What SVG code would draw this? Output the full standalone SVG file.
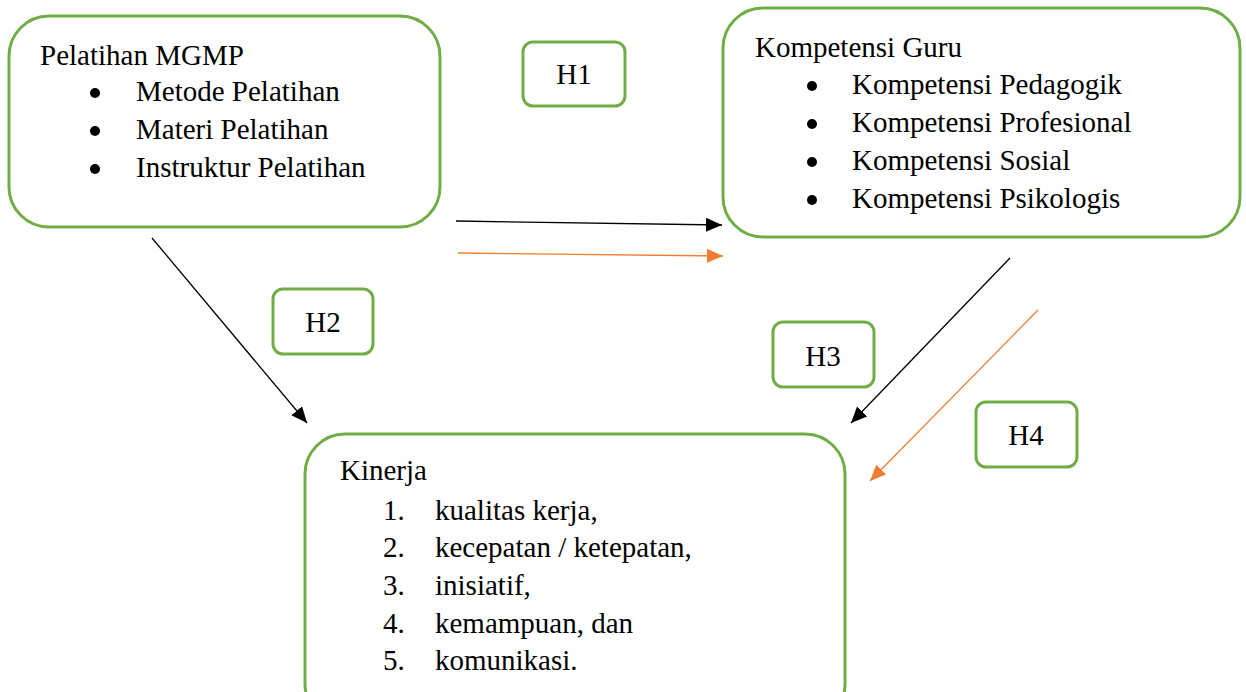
<svg xmlns="http://www.w3.org/2000/svg" width="1246" height="692" viewBox="0 0 1246 692">
<style>
.box{fill:#fff;stroke:#70AD47;stroke-width:3}
.t{font-family:"Liberation Serif","Times New Roman",serif;font-size:29px;fill:#000}
.h{font-family:"Liberation Serif","Times New Roman",serif;font-size:29px;fill:#000;text-anchor:middle}
.blk{stroke:#000;stroke-width:1.3;fill:none}
.org{stroke:#ED7D31;stroke-width:1.3;fill:none}
</style>
<defs>
<marker id="ab" markerUnits="userSpaceOnUse" markerWidth="18" markerHeight="16" refX="16" refY="7" orient="auto"><path d="M0,0 L16,7 L0,14 Z" fill="#000"/></marker>
<marker id="ao" markerUnits="userSpaceOnUse" markerWidth="18" markerHeight="16" refX="16" refY="7" orient="auto"><path d="M0,0 L16,7 L0,14 Z" fill="#ED7D31"/></marker>
</defs>
<rect width="1246" height="692" fill="#fff"/>
<g id="connectors">
<line class="blk" x1="456" y1="221" x2="722" y2="225" marker-end="url(#ab)"/>
<line class="org" x1="458" y1="253" x2="723" y2="256" marker-end="url(#ao)"/>
<line class="blk" x1="152" y1="238" x2="307" y2="423" marker-end="url(#ab)"/>
<line class="blk" x1="1010" y1="258" x2="851" y2="423" marker-end="url(#ab)"/>
<line class="org" x1="1038" y1="310" x2="870" y2="481" marker-end="url(#ao)"/>
</g>
<g id="pelatihan">
<rect class="box" x="9" y="16" width="431" height="211" rx="40"/>
<text class="t" x="40" y="65">Pelatihan MGMP</text>
<circle cx="95" cy="93" r="5"/><text class="t" x="136" y="101">Metode Pelatihan</text>
<circle cx="95" cy="131" r="5"/><text class="t" x="136" y="139">Materi Pelatihan</text>
<circle cx="95" cy="169" r="5"/><text class="t" x="136" y="177">Instruktur Pelatihan</text>
</g>
<g id="kompetensi">
<rect class="box" x="723" y="8" width="517" height="229" rx="40"/>
<text class="t" x="755" y="57">Kompetensi Guru</text>
<circle cx="812" cy="86" r="5"/><text class="t" x="852" y="94">Kompetensi Pedagogik</text>
<circle cx="812" cy="124" r="5"/><text class="t" x="852" y="132">Kompetensi Profesional</text>
<circle cx="812" cy="162" r="5"/><text class="t" x="852" y="170">Kompetensi Sosial</text>
<circle cx="812" cy="200" r="5"/><text class="t" x="852" y="208">Kompetensi Psikologis</text>
</g>
<g id="kinerja">
<rect class="box" x="305" y="434" width="540" height="290" rx="40"/>
<text class="t" x="340" y="480">Kinerja</text>
<text class="t" x="383" y="520">1.</text><text class="t" x="435" y="520">kualitas kerja,</text>
<text class="t" x="383" y="557">2.</text><text class="t" x="435" y="557">kecepatan / ketepatan,</text>
<text class="t" x="383" y="595">3.</text><text class="t" x="435" y="595">inisiatif,</text>
<text class="t" x="383" y="633">4.</text><text class="t" x="435" y="633">kemampuan, dan</text>
<text class="t" x="383" y="670">5.</text><text class="t" x="435" y="670">komunikasi.</text>
</g>
<g id="h1"><rect class="box" x="523" y="42" width="102" height="64" rx="10"/><text class="h" x="574" y="84">H1</text></g>
<g id="h2"><rect class="box" x="273" y="289" width="100" height="65" rx="10"/><text class="h" x="323" y="332">H2</text></g>
<g id="h3"><rect class="box" x="773" y="322" width="101" height="65" rx="10"/><text class="h" x="823" y="366">H3</text></g>
<g id="h4"><rect class="box" x="976" y="402" width="101" height="65" rx="10"/><text class="h" x="1026" y="445">H4</text></g>
</svg>
